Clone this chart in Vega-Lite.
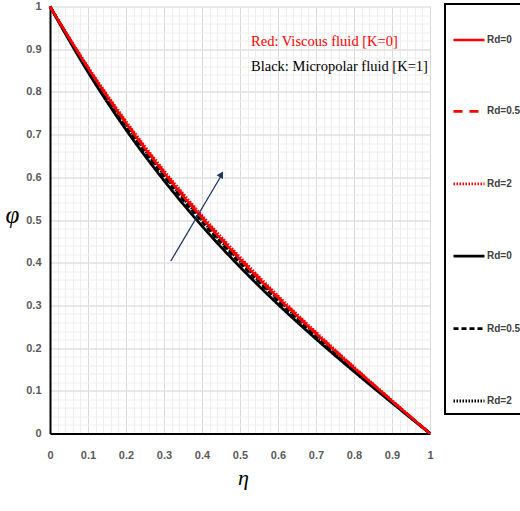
{
  "$schema": "https://vega.github.io/schema/vega-lite/v6.json",
  "width": 380,
  "height": 427,
  "autosize": {"type": "none"},
  "padding": {"left": 50, "top": 6.5, "right": 90, "bottom": 77.5},
  "background": "white",
  "data": {
    "values": [
      {"eta": 0, "phi": 1, "s": "K=1|Rd=0"}, {"eta": 0.1, "phi": 0.8465, "s": "K=1|Rd=0"}, {"eta": 0.2, "phi": 0.7115, "s": "K=1|Rd=0"}, {"eta": 0.3, "phi": 0.5925, "s": "K=1|Rd=0"}, {"eta": 0.4, "phi": 0.486, "s": "K=1|Rd=0"}, {"eta": 0.5, "phi": 0.39, "s": "K=1|Rd=0"}, {"eta": 0.6, "phi": 0.3025, "s": "K=1|Rd=0"}, {"eta": 0.7, "phi": 0.2215, "s": "K=1|Rd=0"}, {"eta": 0.8, "phi": 0.1452, "s": "K=1|Rd=0"}, {"eta": 0.9, "phi": 0.0718, "s": "K=1|Rd=0"}, {"eta": 1, "phi": 0, "s": "K=1|Rd=0"},
      {"eta": 0, "phi": 1, "s": "K=1|Rd=0.5"}, {"eta": 0.1, "phi": 0.8517, "s": "K=1|Rd=0.5"}, {"eta": 0.2, "phi": 0.7199, "s": "K=1|Rd=0.5"}, {"eta": 0.3, "phi": 0.6021, "s": "K=1|Rd=0.5"}, {"eta": 0.4, "phi": 0.496, "s": "K=1|Rd=0.5"}, {"eta": 0.5, "phi": 0.3995, "s": "K=1|Rd=0.5"}, {"eta": 0.6, "phi": 0.3107, "s": "K=1|Rd=0.5"}, {"eta": 0.7, "phi": 0.2279, "s": "K=1|Rd=0.5"}, {"eta": 0.8, "phi": 0.1495, "s": "K=1|Rd=0.5"}, {"eta": 0.9, "phi": 0.074, "s": "K=1|Rd=0.5"}, {"eta": 1, "phi": 0, "s": "K=1|Rd=0.5"},
      {"eta": 0, "phi": 1, "s": "K=1|Rd=2"}, {"eta": 0.1, "phi": 0.8535, "s": "K=1|Rd=2"}, {"eta": 0.2, "phi": 0.7229, "s": "K=1|Rd=2"}, {"eta": 0.3, "phi": 0.6057, "s": "K=1|Rd=2"}, {"eta": 0.4, "phi": 0.4997, "s": "K=1|Rd=2"}, {"eta": 0.5, "phi": 0.403, "s": "K=1|Rd=2"}, {"eta": 0.6, "phi": 0.3138, "s": "K=1|Rd=2"}, {"eta": 0.7, "phi": 0.2304, "s": "K=1|Rd=2"}, {"eta": 0.8, "phi": 0.1513, "s": "K=1|Rd=2"}, {"eta": 0.9, "phi": 0.075, "s": "K=1|Rd=2"}, {"eta": 1, "phi": 0, "s": "K=1|Rd=2"},
      {"eta": 0, "phi": 1, "s": "K=0|Rd=0"}, {"eta": 0.1, "phi": 0.856, "s": "K=0|Rd=0"}, {"eta": 0.2, "phi": 0.7269, "s": "K=0|Rd=0"}, {"eta": 0.3, "phi": 0.6105, "s": "K=0|Rd=0"}, {"eta": 0.4, "phi": 0.5047, "s": "K=0|Rd=0"}, {"eta": 0.5, "phi": 0.4078, "s": "K=0|Rd=0"}, {"eta": 0.6, "phi": 0.318, "s": "K=0|Rd=0"}, {"eta": 0.7, "phi": 0.2338, "s": "K=0|Rd=0"}, {"eta": 0.8, "phi": 0.1537, "s": "K=0|Rd=0"}, {"eta": 0.9, "phi": 0.0762, "s": "K=0|Rd=0"}, {"eta": 1, "phi": 0, "s": "K=0|Rd=0"},
      {"eta": 0, "phi": 1, "s": "K=0|Rd=0.5"}, {"eta": 0.1, "phi": 0.8572, "s": "K=0|Rd=0.5"}, {"eta": 0.2, "phi": 0.7288, "s": "K=0|Rd=0.5"}, {"eta": 0.3, "phi": 0.6128, "s": "K=0|Rd=0.5"}, {"eta": 0.4, "phi": 0.5072, "s": "K=0|Rd=0.5"}, {"eta": 0.5, "phi": 0.4102, "s": "K=0|Rd=0.5"}, {"eta": 0.6, "phi": 0.3201, "s": "K=0|Rd=0.5"}, {"eta": 0.7, "phi": 0.2355, "s": "K=0|Rd=0.5"}, {"eta": 0.8, "phi": 0.1548, "s": "K=0|Rd=0.5"}, {"eta": 0.9, "phi": 0.0768, "s": "K=0|Rd=0.5"}, {"eta": 1, "phi": 0, "s": "K=0|Rd=0.5"},
      {"eta": 0, "phi": 1, "s": "K=0|Rd=2"}, {"eta": 0.1, "phi": 0.8588, "s": "K=0|Rd=2"}, {"eta": 0.2, "phi": 0.7315, "s": "K=0|Rd=2"}, {"eta": 0.3, "phi": 0.616, "s": "K=0|Rd=2"}, {"eta": 0.4, "phi": 0.5105, "s": "K=0|Rd=2"}, {"eta": 0.5, "phi": 0.4133, "s": "K=0|Rd=2"}, {"eta": 0.6, "phi": 0.3228, "s": "K=0|Rd=2"}, {"eta": 0.7, "phi": 0.2376, "s": "K=0|Rd=2"}, {"eta": 0.8, "phi": 0.1563, "s": "K=0|Rd=2"}, {"eta": 0.9, "phi": 0.0776, "s": "K=0|Rd=2"}, {"eta": 1, "phi": 0, "s": "K=0|Rd=2"}
    ]
  },
  "layer": [
    {
      "transform": [{"filter": "indexof(datum.s, 'K=1') == 0"}],
      "mark": {"type": "line", "interpolate": "monotone"},
      "encoding": {
        "x": {"field": "eta", "type": "quantitative", "scale": {"domain": [0, 1], "nice": false},
          "axis": {"orient": "bottom", "values": [0,0.02,0.04,0.06,0.08,0.1,0.12,0.14,0.16,0.18,0.2,0.22,0.24,0.26,0.28,0.3,0.32,0.34,0.36,0.38,0.4,0.42,0.44,0.46,0.48,0.5,0.52,0.54,0.56,0.58,0.6,0.62,0.64,0.66,0.68,0.7,0.72,0.74,0.76,0.78,0.8,0.82,0.84,0.86,0.88,0.9,0.92,0.94,0.96,0.98,1], "grid": true, "gridColor": "#eeeeee", "gridWidth": 1, "labels": false, "ticks": false, "domain": false, "title": null}},
        "y": {"field": "phi", "type": "quantitative", "scale": {"domain": [0, 1], "nice": false},
          "axis": {"orient": "left", "values": [0,0.02,0.04,0.06,0.08,0.1,0.12,0.14,0.16,0.18,0.2,0.22,0.24,0.26,0.28,0.3,0.32,0.34,0.36,0.38,0.4,0.42,0.44,0.46,0.48,0.5,0.52,0.54,0.56,0.58,0.6,0.62,0.64,0.66,0.68,0.7,0.72,0.74,0.76,0.78,0.8,0.82,0.84,0.86,0.88,0.9,0.92,0.94,0.96,0.98,1], "grid": true, "gridColor": "#eeeeee", "gridWidth": 1, "labels": false, "ticks": false, "domain": false, "title": null}},
        "color": {"field": "s", "type": "nominal", "title": " ",
          "legend": {"labelExpr": "split(datum.value, '|')[1]"},
          "scale": {"domain": ["K=0|Rd=0","K=0|Rd=0.5","K=0|Rd=2","K=1|Rd=0","K=1|Rd=0.5","K=1|Rd=2"], "range": ["#ff0000","#ff0000","#ff0000","#000000","#000000","#000000"]}},
        "strokeDash": {"field": "s", "type": "nominal", "title": " ",
          "legend": {"labelExpr": "split(datum.value, '|')[1]"},
          "scale": {"domain": ["K=0|Rd=0","K=0|Rd=0.5","K=0|Rd=2","K=1|Rd=0","K=1|Rd=0.5","K=1|Rd=2"], "range": [[1,0],[9,7],[1.5,1.5],[1,0],[5,3],[1.5,1.5]]}},
        "strokeWidth": {"field": "s", "type": "nominal", "title": " ",
          "legend": {"labelExpr": "split(datum.value, '|')[1]"},
          "scale": {"domain": ["K=0|Rd=0","K=0|Rd=0.5","K=0|Rd=2","K=1|Rd=0","K=1|Rd=0.5","K=1|Rd=2"], "range": [2.5,3,1.5,2.5,2.5,1.5]}}
      }
    },
    {
      "transform": [{"filter": "indexof(datum.s, 'K=0') == 0"}],
      "mark": {"type": "line", "interpolate": "monotone"},
      "encoding": {
        "x": {"field": "eta", "type": "quantitative",
          "axis": {"orient": "bottom", "values": [0,0.1,0.2,0.3,0.4,0.5,0.6,0.7,0.8,0.9,1], "format": ".1~f", "grid": true, "gridColor": "#d9d9d9", "gridWidth": 1, "ticks": false, "domain": true, "domainColor": "#000000", "domainWidth": 2, "labelPadding": 16, "labelFlush": false, "labelOverlap": false,
            "title": "η", "titleFont": "Liberation Serif", "titleFontStyle": "italic", "titleFontWeight": "normal", "titleFontSize": 22, "titleColor": "#000000", "titleX": 193, "titleY": 44, "titleBaseline": "middle", "titleAlign": "center"}},
        "y": {"field": "phi", "type": "quantitative",
          "axis": {"orient": "left", "values": [0,0.1,0.2,0.3,0.4,0.5,0.6,0.7,0.8,0.9,1], "format": ".1~f", "grid": true, "gridColor": "#d9d9d9", "gridWidth": 1, "ticks": false, "domain": true, "domainColor": "#000000", "domainWidth": 2, "labelPadding": 9, "labelFlush": false, "labelOverlap": false,
            "title": "φ", "titleFont": "Liberation Serif", "titleFontStyle": "italic", "titleFontWeight": "normal", "titleFontSize": 25, "titleColor": "#000000", "titleAngle": 0, "titleX": -38, "titleY": 208, "titleBaseline": "middle", "titleAlign": "center"}},
        "color": {"field": "s", "type": "nominal", "title": " ", "legend": {"labelExpr": "split(datum.value, '|')[1]"}},
        "strokeDash": {"field": "s", "type": "nominal", "title": " ", "legend": {"labelExpr": "split(datum.value, '|')[1]"}},
        "strokeWidth": {"field": "s", "type": "nominal", "title": " ", "legend": {"labelExpr": "split(datum.value, '|')[1]"}}
      }
    },
    {
      "data": {"values": [{"eta": 0.318, "phi": 0.404, "eta2": 0.452, "phi2": 0.606}]},
      "mark": {"type": "rule", "color": "#1f3864", "strokeWidth": 1.3},
      "encoding": {
        "x": {"field": "eta", "type": "quantitative", "axis": null},
        "y": {"field": "phi", "type": "quantitative", "axis": null},
        "x2": {"field": "eta2"},
        "y2": {"field": "phi2"}
      }
    },
    {
      "data": {"values": [{"eta": 0.451, "phi": 0.607}]},
      "mark": {"type": "point", "shape": "triangle-up", "filled": true, "color": "#1f3864", "size": 55, "angle": 30, "opacity": 1},
      "encoding": {
        "x": {"field": "eta", "type": "quantitative", "axis": null},
        "y": {"field": "phi", "type": "quantitative", "axis": null}
      }
    },
    {
      "data": {"values": [{"eta": 0.529, "phi": 0.917, "label": "Red: Viscous fluid [K=0]"}]},
      "mark": {"type": "text", "align": "left", "baseline": "middle", "font": "Liberation Serif", "fontSize": 14.5, "color": "#ff0000"},
      "encoding": {
        "x": {"field": "eta", "type": "quantitative", "axis": null},
        "y": {"field": "phi", "type": "quantitative", "axis": null},
        "text": {"field": "label"}
      }
    },
    {
      "data": {"values": [{"eta": 0.529, "phi": 0.858, "label": "Black: Micropolar fluid [K=1]"}]},
      "mark": {"type": "text", "align": "left", "baseline": "middle", "font": "Liberation Serif", "fontSize": 14.5, "color": "#000000"},
      "encoding": {
        "x": {"field": "eta", "type": "quantitative", "axis": null},
        "y": {"field": "phi", "type": "quantitative", "axis": null},
        "text": {"field": "label"}
      }
    }
  ],
  "resolve": {"axis": {"x": "independent", "y": "independent"}},
  "config": {
    "view": {"stroke": null},
    "axis": {"labelFont": "Liberation Sans", "labelFontSize": 11, "labelFontWeight": "bold", "labelColor": "#595959"},
    "legend": {
      "orient": "none", "legendX": 395, "legendY": -2.5, "direction": "vertical",
      "symbolType": "stroke", "symbolSize": 961,
      "strokeColor": "#000000", "strokeWidth": 2, "padding": 7, "rowPadding": 49.4,
      "titleFontSize": 8, "titlePadding": 4,
      "labelFont": "Liberation Sans", "labelFontSize": 10, "labelFontWeight": "bold", "labelColor": "#404040", "labelOffset": 1
    }
  }
}
